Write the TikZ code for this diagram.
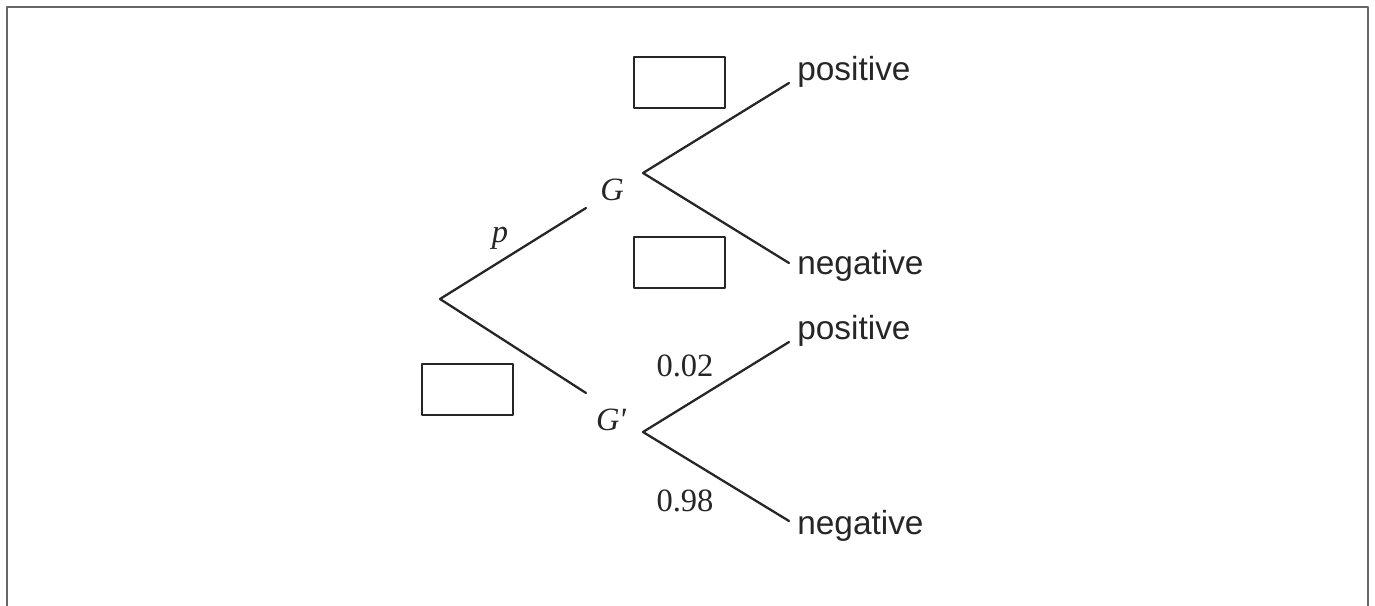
\documentclass[tikz,border=0pt]{standalone}
\usepackage{fontspec}
\setmainfont{Liberation Serif}
\newfontfamily\outfont{Liberation Sans}

\begin{document}
\begin{tikzpicture}[
  x=0.02cm, y=-0.02cm,  % one unit per pixel of the sheet
  every path/.style={line cap=round, line join=round},
  branch/.style={line width=1.3pt, black!85},
  answerbox/.style={draw=black!85, line width=1.5pt},
  outcome/.style={anchor=west, inner sep=0pt, font=\outfont\fontsize{19}{22}\selectfont, text=black!85},
  prob/.style={inner sep=0pt, font=\fontsize{18.5}{22}\selectfont, text=black!85}
]
\useasboundingbox (0,0) rectangle (1375,605);

% ---------------- Frame ----------------
\draw[gray!80!black, line width=1.1pt, line cap=butt] (7,620) -- (7,7) -- (1368,7) -- (1368,620);

% ---------------- First stage ----------------
\coordinate (root) at (440,299);
\coordinate (Gin) at (586,208);
\coordinate (Gcin) at (586,393);
\draw[branch] (Gin) -- (root) -- (Gcin);
\node[prob] (p) at (500,238) {\itshape p};
\node[prob] (G) at (612,190) {\itshape G};
\node[prob] (Gc) at (611,420) {\itshape G\kern-0.5pt\raisebox{0.5pt}{\textquotesingle}};

% ---------------- Second stage ----------------
\coordinate (Gv) at (643,173);
\coordinate (Gcv) at (643,432);
\foreach \v/\yp/\yn in {Gv/83/263, Gcv/342/521} {
  \draw[branch] (789,\yp) -- (\v) -- (789,\yn);
}
\node[outcome] (posG) at (797,72) {positive};
\node[outcome] (negG) at (797,266) {negative};
\node[outcome] (posGc) at (797,331) {positive};
\node[outcome] (negGc) at (797,526) {negative};
\node[prob] (q1) at (685,366) {0.02};
\node[prob] (q2) at (685,501) {0.98};

% ---------------- Blank boxes ----------------
\foreach \bx/\by in {634/57, 634/237, 422/364} {
  \draw[answerbox] (\bx,\by) rectangle ++(91,51);
}

\end{tikzpicture}
\end{document}
